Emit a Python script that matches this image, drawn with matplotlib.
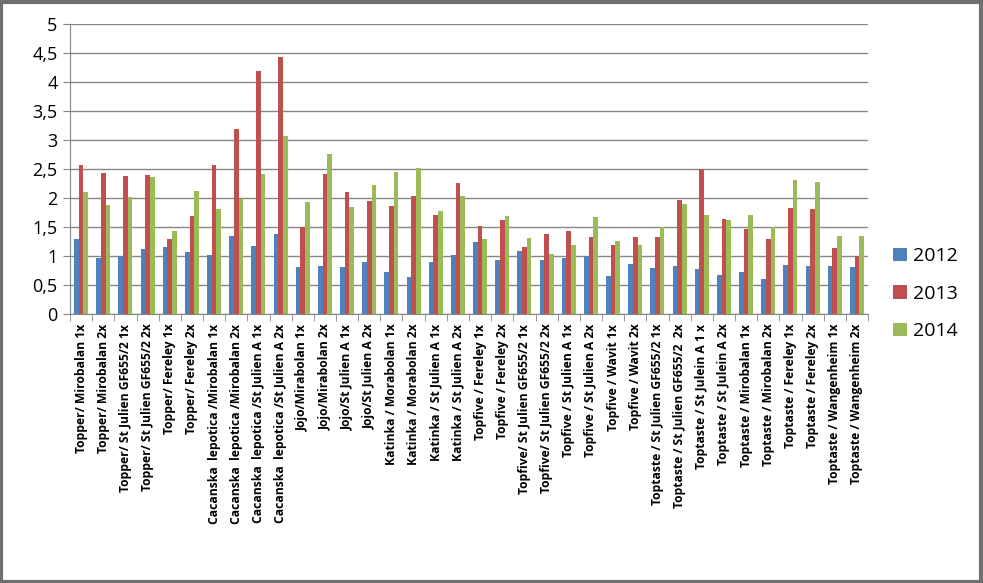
import matplotlib
matplotlib.use('Agg')
import matplotlib.pyplot as plt
import numpy as np
from matplotlib.patches import Rectangle

plt.rcParams['font.family'] = ['Open Sans', 'DejaVu Sans']

categories = ['Topper/ Mirobalan 1x', 'Topper/ Mirobalan 2x',
              'Topper/ St Julien GF655/2 1x', 'Topper/ St Julien GF655/2 2x',
              'Topper/ Fereley 1x', 'Topper/ Fereley 2x',
              'Cacanska  lepotica /Mirobalan 1x', 'Cacanska  lepotica /Mirobalan 2x',
              'Cacanska  lepotica /St Julien A 1x', 'Cacanska  lepotica /St Julien A 2x',
              'Jojo/Mirabolan 1x', 'Jojo/Mirabolan 2x',
              'Jojo/St Julien A 1x', 'Jojo/St Julien A 2x',
              'Katinka / Morabolan 1x', 'Katinka / Morabolan 2x',
              'Katinka / St Julien A 1x', 'Katinka / St Julien A 2x',
              'Topfive / Fereley 1x', 'Topfive / Fereley 2x',
              'Topfive/ St Julien GF655/2 1x', 'Topfive/ St Julien GF655/2 2x',
              'Topfive / St Julien A 1x', 'Topfive / St Julien A 2x',
              'Topfive / Wavit 1x', 'Topfive / Wavit 2x',
              'Toptaste / St Julien GF655/2 1x', 'Toptaste / St Julien GF655/2  2x',
              'Toptaste / St Julein A 1 x', 'Toptaste / St Julein A 2x',
              'Toptaste / Mirobalan 1x', 'Toptaste / Mirobalan 2x',
              'Toptaste / Fereley 1x', 'Toptaste / Fereley 2x',
              'Toptaste / Wangenheim 1x', 'Toptaste / Wangenheim 2x']

v2012 = [1.29, 0.97, 1.00, 1.12, 1.16, 1.07, 1.02, 1.34, 1.17, 1.38,
         0.81, 0.83, 0.81, 0.90, 0.72, 0.64, 0.90, 1.02, 1.24, 0.93,
         1.09, 0.93, 0.97, 1.00, 0.66, 0.86, 0.79, 0.83, 0.78, 0.67,
         0.72, 0.60, 0.84, 0.83, 0.83, 0.81]
v2013 = [2.57, 2.43, 2.38, 2.40, 1.29, 1.69, 2.57, 3.19, 4.19, 4.43,
         1.50, 2.41, 2.10, 1.95, 1.86, 2.03, 1.71, 2.26, 1.52, 1.62,
         1.16, 1.38, 1.43, 1.33, 1.19, 1.33, 1.33, 1.97, 2.50, 1.64,
         1.47, 1.29, 1.83, 1.81, 1.14, 1.00]
v2014 = [2.10, 1.88, 2.02, 2.36, 1.43, 2.12, 1.81, 1.99, 2.41, 3.07,
         1.93, 2.76, 1.84, 2.22, 2.45, 2.52, 1.78, 2.03, 1.29, 1.69,
         1.31, 1.03, 1.19, 1.67, 1.26, 1.19, 1.50, 1.90, 1.71, 1.62,
         1.71, 1.50, 2.31, 2.28, 1.34, 1.34]
years = ['2012', '2013', '2014']
colors = ['#4F81BD', '#C0504D', '#9BBB59']

fig = plt.figure(figsize=(9.83, 5.83), dpi=100)
ax = fig.add_axes([70/983, 1-314/583, (868-70)/983, (314-24)/583])

x = np.arange(len(categories))
w = 0.21
for i, (vals, lab, c) in enumerate(zip([v2012, v2013, v2014], years, colors)):
    ax.bar(x + (i-1)*w, vals, width=w, color=c, label=lab, zorder=3)

ax.set_xlim(-0.5, len(categories)-0.5)
ax.set_ylim(0, 5)
yt = np.arange(0, 5.01, 0.5)
ax.set_yticks(yt)
ax.set_yticklabels([('%g' % t).replace('.', ',') for t in yt], fontsize=13)
ax.yaxis.grid(True, color='#868686', linewidth=1, zorder=0)
ax.set_axisbelow(True)

ax.set_xticks(x)
ax.set_xticklabels(categories, rotation=90, fontsize=8.7, fontweight='bold')
ax.tick_params(axis='x', length=0, pad=7)
ax.set_xticks(np.arange(-0.5, len(categories)), minor=True)
ax.tick_params(axis='x', which='minor', length=5, color='#868686')
ax.tick_params(axis='y', length=5, color='#868686', pad=4)

for s in ['top', 'right']:
    ax.spines[s].set_visible(False)
ax.spines['left'].set_color('#868686')
ax.spines['bottom'].set_color('#868686')

ax.legend(loc='center left', bbox_to_anchor=(1.01, 0.07), frameon=False,
          fontsize=14, handlelength=0.7, handleheight=0.7, labelspacing=1.0,
          handletextpad=0.3)

fig.patches.append(Rectangle((0.001, 0.002), 0.997, 0.995, transform=fig.transFigure,
                             fill=False, edgecolor='#6f6f6f', linewidth=3))

plt.savefig('out.png', dpi=100)
